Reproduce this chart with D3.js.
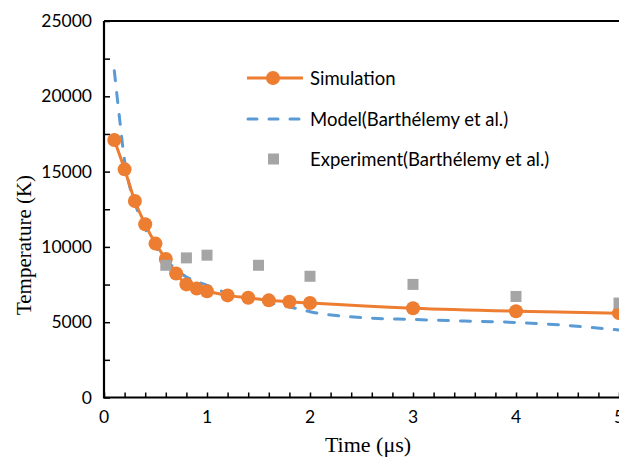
<!DOCTYPE html>
<html>
<head>
<meta charset="utf-8">
<script src="https://cdn.jsdelivr.net/npm/d3@7"></script>
<style>
  body { margin: 0; background: #fff; }
  svg { display: block; }
</style>
</head>
<body>
<div id="chart"></div>
<script>
// data
const simTime = [0.1, 0.2, 0.3, 0.4, 0.5, 0.6, 0.7, 0.8, 0.9, 1.0, 1.2, 1.4, 1.6, 1.8, 2.0, 3.0, 4.0, 5.0];
const simTemp = [17100, 15150, 13050, 11500, 10220, 9200, 8230, 7510, 7230, 7050, 6780, 6620, 6450, 6360, 6270, 5930, 5730, 5600];

const modelTime = [0.1, 0.15, 0.2, 0.25, 0.3, 0.4, 0.5, 0.6, 0.7, 0.8, 0.9, 1.0, 1.25, 1.5, 1.75, 2.0, 2.5, 3.0, 3.5, 4.0, 4.5, 5.0];
const modelTemp = [21700, 18600, 15700, 14000, 12900, 11200, 10000, 9150, 8500, 8000, 7700, 7450, 6800, 6420, 6100, 5700, 5300, 5180, 5080, 4980, 4780, 4480];

const expTime = [0.6, 0.8, 1.0, 1.5, 2.0, 3.0, 4.0, 5.0];
const expTemp = [8780, 9270, 9450, 8780, 8050, 7510, 6710, 6270];

const xTicks = [0, 1, 2, 3, 4, 5];
const yTicks = [0, 5000, 10000, 15000, 20000, 25000];

const seriesNames = ["Simulation", "Model(Barthélemy et al.)", "Experiment(Barthélemy et al.)"];

const W = 619, H = 458;
const margin = {top: 21, right: 0, bottom: 61, left: 104};
const orange = "#ed7d31", blue = "#5b9bd5", gray = "#a5a5a5";
const sans = "Lato, 'Noto Sans', sans-serif";
const serif = "'Liberation Serif', 'Times New Roman', serif";

const svg = d3.select("#chart").append("svg")
    .attr("width", W)
    .attr("height", H);

const x = d3.scaleLinear().domain([0, 5]).range([margin.left, margin.left + 515]);
const y = d3.scaleLinear().domain([0, 25000]).range([H - margin.bottom + 0.5, margin.top]);

// minor + major ticks, all inward
const xAll = d3.range(0, 5.001, 0.2);
const yAll = d3.range(0, 25001, 2500);

svg.append("g")
    .attr("transform", `translate(0,${y(0)})`)
    .call(d3.axisBottom(x).tickValues(xAll).tickSize(-5).tickFormat(""))
    .call(g => g.select(".domain").remove())
    .call(g => g.selectAll("line").attr("stroke", "#000").attr("stroke-width", 1.5));

svg.append("g")
    .attr("transform", `translate(${x(0)},0)`)
    .call(d3.axisLeft(y).tickValues(yAll).tickSize(-6).tickFormat(""))
    .call(g => g.select(".domain").remove())
    .call(g => g.selectAll("line").attr("stroke", "#000").attr("stroke-width", 1.5));

// frame: left, bottom, top
svg.append("path")
    .attr("d", `M${x(0)},${y(25000)}H${W}M${x(0)},${y(25000)}V${y(0)}H${W}`)
    .attr("fill", "none")
    .attr("stroke", "#000")
    .attr("stroke-width", 2.2);

// tick labels
svg.append("g").selectAll("text")
    .data(xTicks)
    .join("text")
    .attr("x", d => x(d))
    .attr("y", 423)
    .attr("text-anchor", "middle")
    .attr("font-family", sans)
    .attr("font-size", 17.5)
    .text(d => d);

svg.append("g").selectAll("text")
    .data(yTicks)
    .join("text")
    .attr("x", 92)
    .attr("y", d => y(d) + 6)
    .attr("text-anchor", "end")
    .attr("font-family", sans)
    .attr("font-size", 17.5)
    .text(d => d);

// axis titles
svg.append("text")
    .attr("x", 368)
    .attr("y", 452)
    .attr("text-anchor", "middle")
    .attr("font-family", serif)
    .attr("font-size", 22)
    .text("Time (μs)");

svg.append("text")
    .attr("transform", "translate(31,245) rotate(-90)")
    .attr("text-anchor", "middle")
    .attr("font-family", serif)
    .attr("font-size", 21)
    .text("Temperature (K)");

const plot = svg.append("g");

// model (dashed)
const modelData = modelTime.map((t, i) => ({t, v: modelTemp[i]}));
plot.append("path")
    .datum(modelData)
    .attr("d", d3.line().x(d => x(d.t)).y(d => y(d.v)).curve(d3.curveMonotoneX))
    .attr("fill", "none")
    .attr("stroke", blue)
    .attr("stroke-width", 3)
    .attr("stroke-linecap", "round")
    .attr("stroke-dasharray", "10,12");

// simulation
const simData = simTime.map((t, i) => ({t, v: simTemp[i]}));
plot.append("path")
    .datum(simData)
    .attr("d", d3.line().x(d => x(d.t)).y(d => y(d.v)).curve(d3.curveCatmullRom))
    .attr("fill", "none")
    .attr("stroke", orange)
    .attr("stroke-width", 3);

plot.selectAll("circle.sim")
    .data(simData)
    .join("circle")
    .attr("class", "sim")
    .attr("cx", d => x(d.t))
    .attr("cy", d => y(d.v))
    .attr("r", 7)
    .attr("fill", orange);

// experiment
const expData = expTime.map((t, i) => ({t, v: expTemp[i]}));
plot.selectAll("rect.exp")
    .data(expData)
    .join("rect")
    .attr("class", "exp")
    .attr("x", d => x(d.t) - 5.5)
    .attr("y", d => y(d.v) - 5.5)
    .attr("width", 11)
    .attr("height", 11)
    .attr("fill", gray);

// legend
const legend = svg.append("g");
const ly = [78, 119, 159];
legend.append("line")
    .attr("x1", 247).attr("x2", 303).attr("y1", ly[0]).attr("y2", ly[0])
    .attr("stroke", orange).attr("stroke-width", 3);
legend.append("circle")
    .attr("cx", 273).attr("cy", ly[0]).attr("r", 7).attr("fill", orange);
legend.append("line")
    .attr("x1", 248).attr("x2", 303).attr("y1", ly[1]).attr("y2", ly[1])
    .attr("stroke", blue).attr("stroke-width", 3)
    .attr("stroke-linecap", "round").attr("stroke-dasharray", "9,12");
legend.append("rect")
    .attr("x", 268).attr("y", ly[2] - 5.5).attr("width", 11).attr("height", 11)
    .attr("fill", gray);

legend.selectAll("text")
    .data(seriesNames)
    .join("text")
    .attr("x", 310)
    .attr("y", (d, i) => ly[i] + 6.5)
    .attr("font-family", sans)
    .attr("font-size", 18.5)
    .text(d => d);
</script>
</body>
</html>
